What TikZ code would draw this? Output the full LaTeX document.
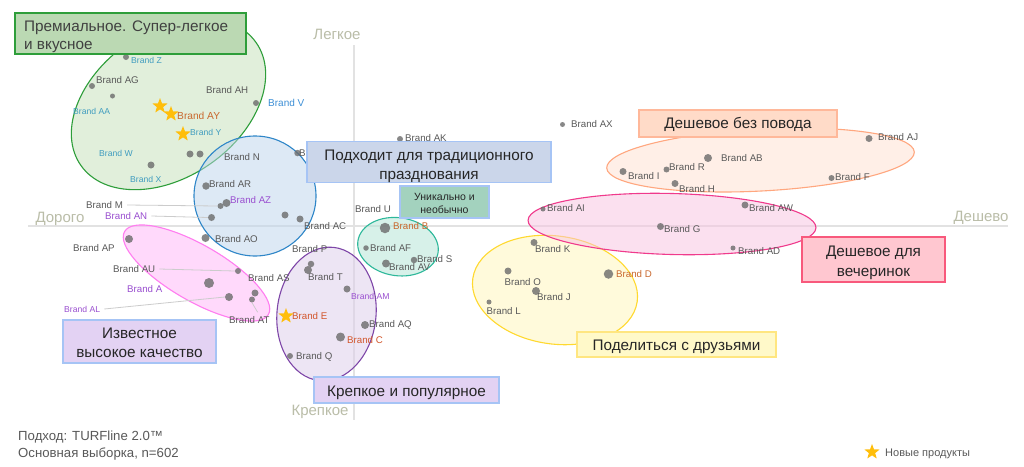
\documentclass[tikz,border=0pt]{standalone}
\usepackage{fontspec}
\setmainfont{Liberation Sans}
\usetikzlibrary{shapes.geometric}
\definecolor{labgray}{HTML}{595959}
\definecolor{cteal}{HTML}{3F9CBF}
\definecolor{cblue}{HTML}{3D8FD6}
\definecolor{cpurple}{HTML}{9A4FD0}
\definecolor{corange}{HTML}{C9682E}
\definecolor{cred}{HTML}{D2562C}
\definecolor{axiscol}{HTML}{E2E2E2}
\definecolor{axistext}{HTML}{BABDA8}
\definecolor{boxedge}{HTML}{A6C4F5}
\definecolor{starcol}{HTML}{FFBE0B}
\newcommand{\dn}[1]{\rule{0pt}{#1pt}}
\tikzset{
  lab/.style={anchor=west,inner sep=0pt,text=labgray,font=\fontsize{9.7}{11}\selectfont},
  labs/.style={lab,font=\fontsize{8.6}{10}\selectfont},
  bdot/.style={circle,inner sep=0pt,minimum size=#1,fill=black!58,fill opacity=.8,draw=none},
  nstar/.style={star,star points=5,star point ratio=2.4,inner sep=0pt,minimum size=16pt,fill=starcol,draw=none},
  blob/.style={ellipse,inner sep=0pt,line width=1.1pt,fill opacity=.5},
  tag/.style={draw=boxedge,line width=1.1pt,inner sep=0pt,align=center,text=black!85,font=\fontsize{15.3}{19.5}\selectfont},
  axisl/.style={inner sep=0pt,text=axistext,font=\fontsize{15}{18}\selectfont},
  leader/.style={draw=black!20,line width=.8pt},
}
\begin{document}
\begin{tikzpicture}[x=1pt,y=-1pt]
\useasboundingbox (0,0) rectangle (1024,466);
\fill[white] (0,0) rectangle (1024,466);
% axes
\coordinate (xa) at (28,226); \coordinate (xb) at (1008,226);
\coordinate (ya) at (354,45); \coordinate (yb) at (354,420);
\draw[axiscol,line width=1.2pt] (xa)--(xb);
\draw[axiscol,line width=1.2pt] (ya)--(yb);
\node[axisl] (ltop) at (337,34) {Легкое};
\node[axisl] (lbot) at (320,412) {Крепкое};
\node[axisl] (lleft) at (60,219) {Дорого};
\node[axisl] (lright) at (981,218) {Дешево};
% clusters
\node[blob,draw={rgb,255:red,46;green,158;blue,58},fill={rgb,255:red,197;green,225;blue,185},minimum width=214pt,minimum height=146pt,rotate=35] (eGreen) at (168.5,104) {};
\node[blob,draw={rgb,255:red,46;green,134;blue,200},fill={rgb,255:red,189;green,213;blue,237},minimum width=122pt,minimum height=120pt] (eBlue) at (255,196) {};
\node[blob,draw={rgb,255:red,255;green,125;blue,240},fill={rgb,255:red,255;green,181;blue,249},minimum width=166pt,minimum height=56pt,rotate=-30] (eMag) at (196.5,273) {};
\node[blob,draw={rgb,255:red,126;green,70;blue,168},fill={rgb,255:red,221;green,205;blue,235},minimum width=134pt,minimum height=99pt,rotate=84] (ePur) at (326.5,314) {};
\node[blob,draw={rgb,255:red,45;green,184;blue,154},fill={rgb,255:red,177;green,229;blue,213},minimum width=81pt,minimum height=58pt,rotate=-8] (eTeal) at (398,246.7) {};
\node[blob,draw={rgb,255:red,255;green,217;blue,47},fill={rgb,255:red,255;green,247;blue,185},minimum width=166pt,minimum height=108pt,rotate=-8] (eYel) at (555,290) {};
\node[blob,draw={rgb,255:red,255;green,167;blue,127},fill={rgb,255:red,255;green,225;blue,209},minimum width=308pt,minimum height=62pt,rotate=3] (eOr) at (760.5,160) {};
\node[blob,draw={rgb,255:red,240;green,58;blue,140},fill={rgb,255:red,249;green,195;blue,225},minimum width=288pt,minimum height=61pt,rotate=-1.5] (ePk) at (672,224) {};
% points
\foreach \n/\x/\y/\d in {dZ/126/57/6,dAG/92/86/6,dU1/112.5/96/5,dV/256/103/6,dG1/190/154/7,dG2/200/154/7,dX/151/165/7,
 dBx/297.5/153/6.5,dAR/206/186/7.5,dM/220.5/206/6,dAZ/226.5/203/8,dAN/211.5/217.5/7,dB1/285/215/7,dAC/300/219/7,dAO/205.5/238/8,
 dAP/129/239/8,dAU/238/271/6,dA/209/283/10,dAL/229/297/8,dAS/255/293/7,dAT/252/299.5/6,
 dP/311/264/6.5,dT/308/270/8,dAM/347/289/7,dC/340.5/337/9,dAQ/365/325/8,dQ/290/356/6,
 dB/385/228/10.5,dAF/366/248/5.5,dAV/386/263.5/8,dS/414/260/6.5,dAK/400/139/6,dAX/562.5/124.5/5,
 dAB/708/158/8,dR/666.5/169.5/6,dI/623/171.5/7,dH/675/183.5/7,dAJ/869/138.5/7,dF/831.5/178/6,
 dAI/543/209/5,dAW/745/205/7,dG/660.5/226.5/7,dAD/733/248/5,
 dK/534/242.5/7,dO/508/271/7,dJ/536/291/8,dL/489/302/5,dD/608.5/274/9.5}
 {\node[bdot=\d pt] (\n) at (\x,\y) {};}
\node[bdot=6pt] (dE) at (286,316) {};
% labels
\foreach \n/\x/\y/\t in {lAG/96/80/Brand AG,lAH/206/90/Brand AH,lN/224/157/Brand N,lAR/209/184/Brand AR,lM/86/205/Brand M,lAC/304/226/Brand AC,lAO/215/239/Brand AO,lAP/73/248/Brand AP,lAU/113/269/Brand AU,lAS/248/278/Brand AS,lAT/229/320/Brand AT,lP/292/249/Brand P,lT/308/277/Brand T,lAQ/369/325/Brand AQ,lQ/296/357/Brand Q,lU/355/209/Brand U,lAF/370/248/Brand AF,lAV/389/267/Brand AV,lS/417/259/Brand S,lAK/405/138/Brand AK,lAX/571/124/Brand AX,lAB/721/158/Brand AB,lR/669/167/Brand R,lI/628/176/Brand I,lH/679/189/Brand H,lAJ/878/137/Brand AJ,lF/835/177/Brand F,lAI/547/208/Brand AI,lAW/749/208/Brand AW,lG/664/229/Brand G,lAD/738/251/Brand AD,lK/535/249/Brand K,lO/504.5/282/Brand O,lJ/537/297/Brand J,lL/486.5/311/Brand L}
 {\node[lab] (\n) at (\x,\y) {\t};}
\node[lab] (lBx) at (299,153) {Brand};
\foreach \n/\x/\y/\t in {lZ/131/60/Brand Z,lAA/73/111/Brand AA,lY/190/132/Brand Y,lW/99/153/Brand W,lX/130/179/Brand X}
 {\node[labs,text=cteal] (\n) at (\x,\y) {\t};}
\node[lab,text=cblue,font=\fontsize{10}{11}\selectfont] (lV) at (268,103) {Brand V};
\node[lab,text=corange,font=\fontsize{10.2}{11}\selectfont] (lAY) at (177,116) {Brand AY};
\node[lab,text=corange] (lB) at (393,226) {Brand B};
\node[lab,text=corange] (lD) at (616,274) {Brand D};
\node[lab,text=cred] (lE) at (292,316) {Brand E};
\node[lab,text=cred] (lC) at (347,340) {Brand C};
\node[lab,text=cpurple] (lAZ) at (230,200) {Brand AZ};
\node[lab,text=cpurple] (lAN) at (105,216) {Brand AN};
\node[lab,text=cpurple] (lA) at (127,289) {Brand A};
\node[labs,text=cpurple] (lAL) at (64,309) {Brand AL};
\node[labs,text=cpurple] (lAM) at (351,296) {Brand AM};
% leaders
\draw[leader] (lM.east)++(4,0) -- (dM.west);
\draw[leader] (lAN.east)++(4,0) -- (dAN.west);
\draw[leader] (lAU.east)++(4,0) -- (dAU.west);
\draw[leader] (lAL.east)++(4,0) -- (dAL.west);
\draw[leader] (lAT.north east)++(-12,-4) -- (dAT.south);
% stars
\node[nstar] (s1) at (160,106) {};
\node[nstar] (s2) at (171,114) {};
\node[nstar] (s3) at (183,134) {};
\node[nstar] (s4) at (286,316) {};
% tags
\node[tag,draw={rgb,255:red,46;green,158;blue,58},fill={rgb,255:red,187;green,217;blue,179},minimum width=231pt,minimum height=41pt] (tGreen) at (130.5,33.5) {};
\node[anchor=west,inner sep=0pt,align=left,text=black!75,font=\fontsize{15.3}{18.5}\selectfont] (tGreenT) at (24,36.5) {Премиальное. Супер-легкое\\и вкусное};
\node[tag,fill={rgb,255:red,203;green,214;blue,234},minimum width=244pt,minimum height=40pt] (tBlue) at (429,162) {\dn{19}Подходит для традиционного\\празднования};
\node[tag,fill={rgb,255:red,163;green,210;blue,190},minimum width=89pt,minimum height=32pt,font=\fontsize{10.5}{13.8}\selectfont] (tTeal) at (444.5,202) {\dn{10}Уникально и\\необычно};
\node[tag,fill={rgb,255:red,227;green,210;blue,243},minimum width=185pt,minimum height=26pt] (tPur) at (406.5,390) {\dn{17}Крепкое и популярное};
\node[tag,fill={rgb,255:red,227;green,210;blue,243},minimum width=153pt,minimum height=43pt] (tMag) at (139.5,341.5) {\dn{13}Известное\\высокое качество};
\node[tag,draw={rgb,255:red,255;green,184;blue,154},fill={rgb,255:red,255;green,219;blue,200},minimum width=198pt,minimum height=27pt] (tOr) at (738,123.5) {\dn{13}Дешевое без повода};
\node[tag,draw={rgb,255:red,248;green,89;blue,124},fill={rgb,255:red,255;green,199;blue,208},minimum width=143pt,minimum height=45pt] (tPk) at (873.5,259.5) {\dn{17}Дешевое для\\вечеринок};
\node[tag,draw={rgb,255:red,255;green,230;blue,128},fill={rgb,255:red,255;green,249;blue,201},minimum width=199pt,minimum height=25pt] (tYel) at (676.5,344.5) {\dn{15}Поделиться с друзьями};
% footer
\node[anchor=west,inner sep=0pt,align=left,text=labgray,font=\fontsize{13.2}{16.5}\selectfont] (note) at (18,445.5) {Подход: TURFline 2.0™\\Основная выборка, n=602};
\node[nstar] (legS) at (872,452) {};
\node[lab,font=\fontsize{11}{13}\selectfont] (legT) at (885,454) {Новые продукты};
\end{tikzpicture}
\end{document}
